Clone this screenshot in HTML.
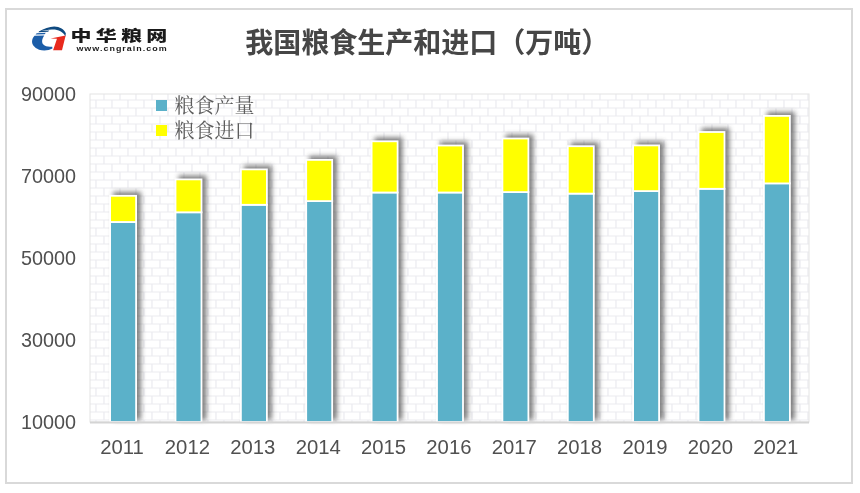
<!DOCTYPE html>
<html lang="zh"><head><meta charset="utf-8"><title>我国粮食生产和进口（万吨）</title>
<style>
html,body{margin:0;padding:0;background:#fff;}
body{width:860px;height:493px;overflow:hidden;font-family:"Liberation Sans","Noto Sans CJK SC",sans-serif;}
svg{display:block}
</style></head><body>
<svg width="860" height="493" viewBox="0 0 860 493">
<defs>
<pattern id="brick" x="88" y="92" width="16" height="16" patternUnits="userSpaceOnUse">
<rect width="16" height="16" fill="#fff"/>
<path d="M0 0H16M0 8H16M0 16H16M0 0V8M16 0V8M8 8V16" stroke="#ebebf0" stroke-width="1.2" fill="none"/>
</pattern>
<filter id="sh" x="-60%" y="-10%" width="220%" height="120%">
<feGaussianBlur in="SourceGraphic" stdDeviation="2.5"/>
<feOffset dx="3.5" dy="-3.2"/>
<feComponentTransfer><feFuncA type="linear" slope="0.66"/></feComponentTransfer>
</filter>
</defs>
<rect width="860" height="493" fill="#fff"/>
<rect x="6" y="9" width="846" height="474" fill="#fff" stroke="#d9d9d9" stroke-width="2"/>
<!-- plot area -->
<rect x="90" y="94" width="719" height="328" fill="url(#brick)" stroke="#e4e4e4" stroke-width="1"/>
<g>
<rect x="109.1" y="194.8" width="28" height="228.2" fill="#404040" filter="url(#sh)"/>
<rect x="110.1" y="222.0" width="26" height="200.0" fill="#5bb1c9" stroke="#fff" stroke-width="1.8"/>
<rect x="110.1" y="195.8" width="26" height="26.2" fill="#ffff00" stroke="#fff" stroke-width="1.8"/>
<rect x="174.5" y="178.4" width="28" height="244.6" fill="#404040" filter="url(#sh)"/>
<rect x="175.5" y="212.3" width="26" height="209.7" fill="#5bb1c9" stroke="#fff" stroke-width="1.8"/>
<rect x="175.5" y="179.4" width="26" height="32.9" fill="#ffff00" stroke="#fff" stroke-width="1.8"/>
<rect x="239.9" y="168.4" width="28" height="254.6" fill="#404040" filter="url(#sh)"/>
<rect x="240.9" y="204.8" width="26" height="217.2" fill="#5bb1c9" stroke="#fff" stroke-width="1.8"/>
<rect x="240.9" y="169.4" width="26" height="35.4" fill="#ffff00" stroke="#fff" stroke-width="1.8"/>
<rect x="305.2" y="158.9" width="28" height="264.1" fill="#404040" filter="url(#sh)"/>
<rect x="306.2" y="201.0" width="26" height="221.0" fill="#5bb1c9" stroke="#fff" stroke-width="1.8"/>
<rect x="306.2" y="159.9" width="26" height="41.2" fill="#ffff00" stroke="#fff" stroke-width="1.8"/>
<rect x="370.6" y="140.3" width="28" height="282.7" fill="#404040" filter="url(#sh)"/>
<rect x="371.6" y="192.5" width="26" height="229.5" fill="#5bb1c9" stroke="#fff" stroke-width="1.8"/>
<rect x="371.6" y="141.3" width="26" height="51.2" fill="#ffff00" stroke="#fff" stroke-width="1.8"/>
<rect x="436.0" y="144.5" width="28" height="278.5" fill="#404040" filter="url(#sh)"/>
<rect x="437.0" y="192.5" width="26" height="229.5" fill="#5bb1c9" stroke="#fff" stroke-width="1.8"/>
<rect x="437.0" y="145.5" width="26" height="47.0" fill="#ffff00" stroke="#fff" stroke-width="1.8"/>
<rect x="501.4" y="137.5" width="28" height="285.5" fill="#404040" filter="url(#sh)"/>
<rect x="502.4" y="192.0" width="26" height="230.0" fill="#5bb1c9" stroke="#fff" stroke-width="1.8"/>
<rect x="502.4" y="138.5" width="26" height="53.6" fill="#ffff00" stroke="#fff" stroke-width="1.8"/>
<rect x="566.8" y="145.2" width="28" height="277.8" fill="#404040" filter="url(#sh)"/>
<rect x="567.8" y="193.6" width="26" height="228.4" fill="#5bb1c9" stroke="#fff" stroke-width="1.8"/>
<rect x="567.8" y="146.2" width="26" height="47.4" fill="#ffff00" stroke="#fff" stroke-width="1.8"/>
<rect x="632.1" y="144.4" width="28" height="278.6" fill="#404040" filter="url(#sh)"/>
<rect x="633.1" y="191.1" width="26" height="230.9" fill="#5bb1c9" stroke="#fff" stroke-width="1.8"/>
<rect x="633.1" y="145.4" width="26" height="45.7" fill="#ffff00" stroke="#fff" stroke-width="1.8"/>
<rect x="697.5" y="131.0" width="28" height="292.0" fill="#404040" filter="url(#sh)"/>
<rect x="698.5" y="188.8" width="26" height="233.2" fill="#5bb1c9" stroke="#fff" stroke-width="1.8"/>
<rect x="698.5" y="132.0" width="26" height="56.8" fill="#ffff00" stroke="#fff" stroke-width="1.8"/>
<rect x="762.9" y="114.9" width="28" height="308.1" fill="#404040" filter="url(#sh)"/>
<rect x="763.9" y="183.3" width="26" height="238.7" fill="#5bb1c9" stroke="#fff" stroke-width="1.8"/>
<rect x="763.9" y="115.9" width="26" height="67.5" fill="#ffff00" stroke="#fff" stroke-width="1.8"/>
</g>
<line x1="90" y1="422.5" x2="809" y2="422.5" stroke="#d4d4d4" stroke-width="2"/>
<g font-family="'Liberation Sans',sans-serif" font-size="19.8" fill="#505050">
<text x="76" y="428.6" text-anchor="end">10000</text>
<text x="76" y="346.6" text-anchor="end">30000</text>
<text x="76" y="264.6" text-anchor="end">50000</text>
<text x="76" y="182.6" text-anchor="end">70000</text>
<text x="76" y="100.6" text-anchor="end">90000</text>
<text x="122.1" y="454" font-size="20.3" text-anchor="middle">2011</text>
<text x="187.4" y="454" font-size="20.3" text-anchor="middle">2012</text>
<text x="252.8" y="454" font-size="20.3" text-anchor="middle">2013</text>
<text x="318.2" y="454" font-size="20.3" text-anchor="middle">2014</text>
<text x="383.5" y="454" font-size="20.3" text-anchor="middle">2015</text>
<text x="448.9" y="454" font-size="20.3" text-anchor="middle">2016</text>
<text x="514.3" y="454" font-size="20.3" text-anchor="middle">2017</text>
<text x="579.6" y="454" font-size="20.3" text-anchor="middle">2018</text>
<text x="645.0" y="454" font-size="20.3" text-anchor="middle">2019</text>
<text x="710.4" y="454" font-size="20.3" text-anchor="middle">2020</text>
<text x="775.7" y="454" font-size="20.3" text-anchor="middle">2021</text>
</g>
<!-- legend -->
<rect x="156" y="100" width="11" height="11" fill="#5bb1c9"/>
<rect x="156" y="125" width="11" height="11" fill="#ffff00"/>
<g font-family="'Liberation Serif','Noto Serif CJK SC',serif" font-size="20" fill="#5c5c5c">
<text x="174.5" y="112.8">粮食产量</text>
<text x="174.5" y="137.8">粮食进口</text>
</g>
<!-- title -->
<text x="427.2" y="52.6" text-anchor="middle" font-family="'Liberation Sans','Noto Sans CJK SC',sans-serif" font-weight="bold" font-size="28" fill="#464646">我国粮食生产和进口（万吨）</text>
<!-- logo -->
<g transform="translate(28 22) scale(0.06897)">
<path d="M95 200 L236 194 C203 240 193 290 223 328 C250 358 300 364 352 358 L354 386 C300 416 220 422 160 402 C90 376 50 320 60 270 C65 240 78 215 95 200 Z" fill="#1b5da8"/>
<path d="M160 139 C230 96 310 64 380 64 C460 64 530 110 549 165 L541 212 C530 168 470 122 390 110 C320 101 240 116 160 141 Z" fill="#0f4a80"/>
<path d="M168 131 L308 124 L292 142 L150 148 Z" fill="#0f4a80"/>
<path d="M126 164 L258 157 L242 177 L110 183 Z" fill="#1b5da8"/>
<path d="M328 241 L546 197 L493 411 L364 411 L420 244 Z" fill="#e8291d"/>
</g>
<g font-family="'Liberation Sans','Noto Sans CJK SC',sans-serif" font-weight="bold" fill="#1a1a1a">
<text transform="translate(70.6 41.3) scale(1.42 1)" font-size="14.8" font-weight="900" letter-spacing="3.0">中华粮网</text>
<text transform="translate(76.4 51.3) scale(1.4 1)" font-size="6.4" letter-spacing="0.72">www.cngrain.com</text>
</g>
</svg>
</body></html>
